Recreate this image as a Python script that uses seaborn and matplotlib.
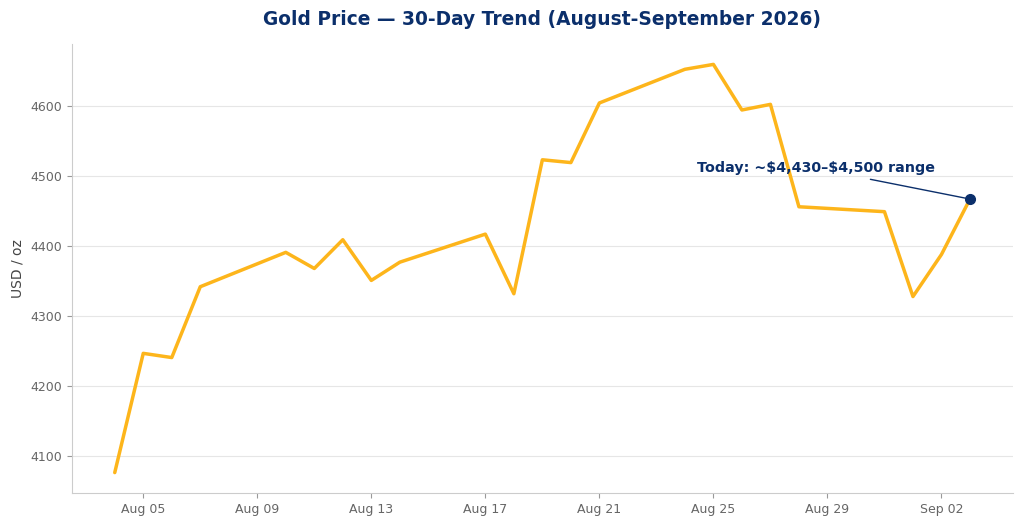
import pandas as pd
import matplotlib
matplotlib.use('Agg')
import matplotlib.pyplot as plt
import matplotlib.dates as mdates
import seaborn as sns

# Trading days (weekends skipped) and closing prices
dates = ['2026-08-04', '2026-08-05', '2026-08-06', '2026-08-07', '2026-08-10',
         '2026-08-11', '2026-08-12', '2026-08-13', '2026-08-14', '2026-08-17',
         '2026-08-18', '2026-08-19', '2026-08-20', '2026-08-21', '2026-08-24',
         '2026-08-25', '2026-08-26', '2026-08-27', '2026-08-28', '2026-08-31',
         '2026-09-01', '2026-09-02', '2026-09-03']
prices = [4077, 4247, 4241, 4342, 4391, 4368, 4409, 4351, 4377, 4417,
          4332, 4523, 4519, 4604, 4652, 4659, 4594, 4602, 4456, 4449,
          4328, 4388, 4467]
tick_dates = ['2026-08-05', '2026-08-09', '2026-08-13', '2026-08-17',
              '2026-08-21', '2026-08-25', '2026-08-29', '2026-09-02']
note = 'Today: ~\\$4,430\u2013\\$4,500 range'

gold = '#FDB51B'
navy = '#0B2F6B'

df = pd.DataFrame({'date': pd.to_datetime(dates), 'price': prices})

sns.set_style('whitegrid')
plt.rcParams['font.family'] = ['DejaVu Sans']
fig, ax = plt.subplots(figsize=(10.24, 5.28), dpi=100)
fig.subplots_adjust(left=0.0703, right=0.989, top=0.9167, bottom=0.0663)

sns.lineplot(data=df, x='date', y='price', color=gold, linewidth=2.5, ax=ax)

last = df.iloc[-1]
ax.plot(last['date'], last['price'], 'o', color=navy, markersize=7, zorder=5)
ax.annotate(note, xy=(last['date'], last['price']),
            xytext=(-111, 22), textcoords='offset points', ha='center', va='center',
            fontsize=10.3, fontweight='bold', color=navy,
            arrowprops=dict(arrowstyle='-', color=navy, lw=1.0))

ax.set_xticks(pd.to_datetime(tick_dates))
ax.xaxis.set_major_formatter(mdates.DateFormatter('%b %d'))
ax.grid(axis='x', visible=False)
ax.grid(axis='y', color='#e6e6e6', linewidth=0.8)

for side in ['top', 'right']:
    ax.spines[side].set_visible(False)
for side in ['left', 'bottom']:
    ax.spines[side].set_color('#cccccc')

ax.tick_params(axis='both', colors='#666666', labelsize=9, length=3.5, width=0.8,
               left=True, bottom=True)
ax.tick_params(axis='both', color='#999999')

ax.set_title('Gold Price \u2014 30-Day Trend (August-September 2026)',
             fontsize=13.4, fontweight='bold', color=navy, pad=14)
ax.set_xlabel('')
ax.set_ylabel('USD / oz', fontsize=10, color='#444444')

plt.savefig('out.png', dpi=100)
